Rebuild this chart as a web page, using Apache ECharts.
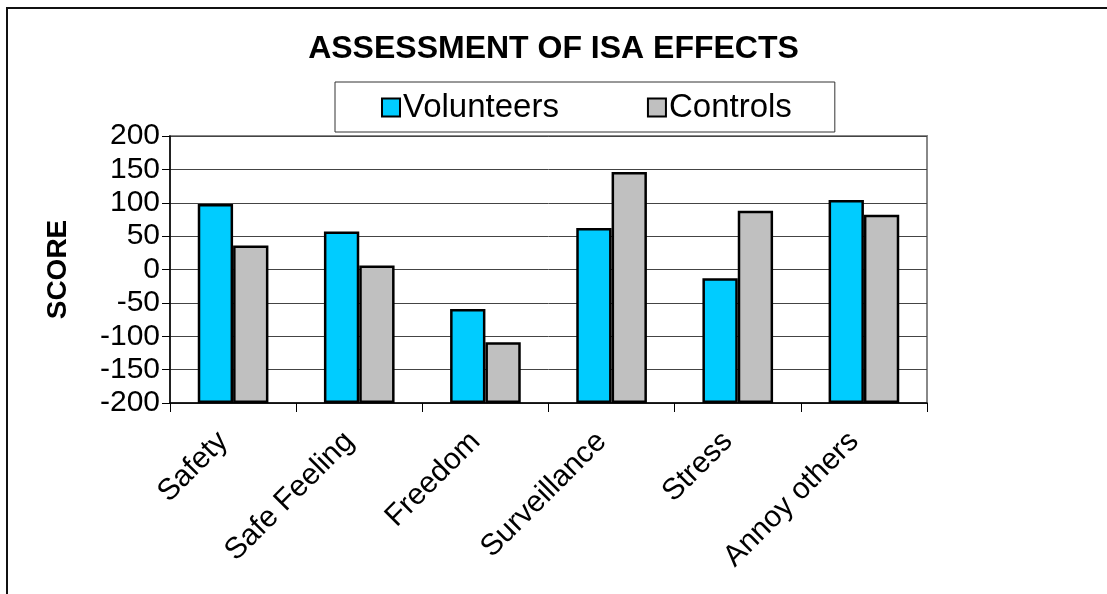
<!DOCTYPE html>
<html>
<head>
<meta charset="utf-8">
<title>Assessment of ISA effects</title>
<script src="https://cdn.jsdelivr.net/npm/echarts@6/dist/echarts.min.js"></script>
<style>
  html, body { margin: 0; padding: 0; background: #fff; }
  #chart { width: 1107px; height: 594px; }
</style>
</head>
<body>
<div id="chart"></div>
<script>
// data
var categories = ['Safety', 'Safe Feeling', 'Freedom', 'Surveillance', 'Stress', 'Annoy others'];
var volunteers = [98, 57, -59, 62, -13, 104];
var controls = [36, 6, -109, 146, 88, 82];
var yMin = -200; // bars grow up from the axis floor, like the original
var yMax = 200;
var yStep = 50;

var font = 'Liberation Sans, Arial, sans-serif';

// shift values so the bars start at the bottom of the axis (-200)
function lift(arr) {
  return arr.map(function (v) { return v - yMin; });
}

var myChart = echarts.init(document.getElementById('chart'), null, { renderer: 'canvas' });

var option = {
  animation: false,
  backgroundColor: '#fff',
  textStyle: { fontFamily: font },
  title: {
    text: 'ASSESSMENT OF ISA EFFECTS',
    left: 'center',
    top: 28,
    textStyle: { fontFamily: font, fontSize: 32, fontWeight: 'bold', color: '#000' }
  },
  legend: {
    left: 335,
    top: 82,
    padding: [9, 43, 8, 46],
    borderColor: '#333',
    borderWidth: 1,
    itemWidth: 18,
    itemHeight: 18,
    itemGap: 88,
    icon: 'rect',
    textStyle: { fontFamily: font, fontSize: 33, color: '#000', padding: [0, 0, 0, -2] },
    data: ['Volunteers', 'Controls']
  },
  grid: {
    left: 170,
    right: 180,
    top: 136,
    bottom: 191,
    show: true,
    borderColor: '#888',
    borderWidth: 2
  },
  xAxis: {
    type: 'category',
    data: categories,
    axisLine: { lineStyle: { color: '#000', width: 1.5 } },
    axisTick: { show: true, length: 9, lineStyle: { color: '#000' } },
    axisLabel: {
      rotate: 45,
      margin: 24,
      padding: [0, 14, 0, 0],
      fontSize: 30,
      fontFamily: font,
      color: '#000',
      interval: 0
    }
  },
  yAxis: {
    type: 'value',
    min: 0,
    max: yMax - yMin,
    interval: yStep,
    name: 'SCORE',
    nameLocation: 'middle',
    nameRotate: 90,
    nameGap: 98,
    nameTextStyle: { fontFamily: font, fontSize: 28, fontWeight: 'bold', color: '#000' },
    axisLine: { show: true, lineStyle: { color: '#000', width: 1.5 } },
    axisTick: { show: true, length: 8, lineStyle: { color: '#000' } },
    axisLabel: {
      margin: 10,
      fontSize: 30,
      fontFamily: font,
      color: '#000',
      formatter: function (v) { return String(v + yMin); }
    },
    splitLine: { show: true, lineStyle: { color: '#444', width: 1 } }
  },
  graphic: [
    {
      // outer chart frame, runs off the right and bottom edges
      type: 'rect',
      silent: true,
      z: -1,
      shape: { x: 7, y: 8, width: 1200, height: 700 },
      style: { fill: 'none', stroke: '#111', lineWidth: 2 }
    }
  ],
  series: [
    {
      name: 'Volunteers',
      type: 'bar',
      data: lift(volunteers),
      barGap: '0%',
      barCategoryGap: '44%',
      itemStyle: { color: '#00CCFF', borderColor: '#000', borderWidth: 2.5 }
    },
    {
      name: 'Controls',
      type: 'bar',
      data: lift(controls),
      itemStyle: { color: '#C0C0C0', borderColor: '#000', borderWidth: 2.5 }
    }
  ]
};

myChart.setOption(option);
window.addEventListener('resize', function () { myChart.resize(); });
</script>
</body>
</html>
